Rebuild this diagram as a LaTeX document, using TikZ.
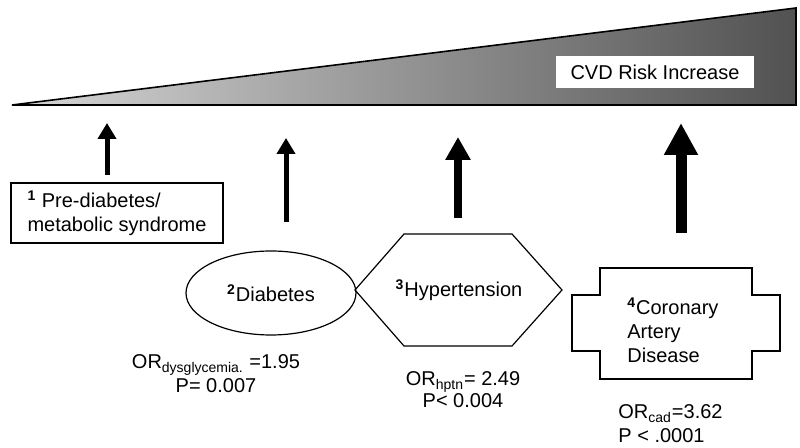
\documentclass[tikz,border=0pt]{standalone}
\usepackage{fontspec}
\setmainfont{Liberation Sans}
\usetikzlibrary{
    arrows.meta,
    shapes.geometric
}
\definecolor{wedgelight}{gray}{0.84}
\definecolor{wedgemid}{gray}{0.64}
\definecolor{wedgedark}{gray}{0.32}
\tikzset{
    txt/.style={font=\fontsize{10}{12}\selectfont, inner sep=0pt},
    outline/.style={draw, line width=0.6pt},
    riskarrow/.style n args={3}{line width=#1, -{Triangle[width=#2, length=#3]}}
}
\newcommand{\refnum}[1]{\textsuperscript{\bfseries #1}}

\begin{document}
\begin{tikzpicture}[x=0.5pt, y=-0.5pt]
        \useasboundingbox (0,0) rectangle (800,448);
        % risk wedge
        \shade[left color=wedgelight, middle color=wedgemid, right color=wedgedark]
            (12,105) -- (796,105) -- (796,8) -- cycle;
        \draw[line width=0.8pt] (12,105) -- (796,105) -- (796,8) -- cycle;
        \node[txt, fill=white, minimum width=99pt, minimum height=16pt] (risk) at (655,72) {CVD Risk Increase};
        % conditions
        \node[txt, outline, align=left, minimum width=106pt, minimum height=30pt] (prediab) at (117,213)
            {\refnum{1} Pre-diabetes/\\metabolic syndrome};
        \node[txt, outline, ellipse, minimum width=85pt, minimum height=42pt] (diab) at (271,293)
            {\refnum{2}Diabetes};
        \draw[outline] (355,290) -- (404,234) -- (512,234) -- (562,290) -- (512,346) -- (404,346) -- cycle;
        \node[txt] (hyper) at (459,290) {\refnum{3}Hypertension};
        \draw[outline] (600,268) -- (752,268) -- (752,295) -- (780,295) -- (780,351) -- (752,351)
            -- (752,379) -- (600,379) -- (600,351) -- (572,351) -- (572,295) -- (600,295) -- cycle;
        \node[txt, align=left, anchor=west] (cad) at (627,330) {\refnum{4}Coronary\\Artery\\Disease};
        % odds ratios
        \node[txt, align=center] (ordiab) at (216,374) {OR\textsubscript{dysglycemia.} =1.95\\P= 0.007};
        \node[txt, align=center, font=\fontsize{10}{11}\selectfont] (orhyper) at (463,390) {OR\textsubscript{hptn}= 2.49\\P< 0.004};
        \node[txt, align=left, anchor=west] (orcad) at (618,424) {OR\textsubscript{cad}=3.62\\P < .0001};
        % arrows towards the wedge
        \coordinate (a1s) at (107,175);
        \coordinate (a1e) at (107,123);
        \coordinate (a2s) at (286,222);
        \coordinate (a2e) at (286,138);
        \coordinate (a3s) at (458,218);
        \coordinate (a3e) at (458,137);
        \coordinate (a4s) at (681,233);
        \coordinate (a4e) at (681,123);
        \draw[riskarrow={2.5pt}{9pt}{8pt}] (a1s) -- (a1e);
        \draw[riskarrow={2.5pt}{9pt}{8pt}] (a2s) -- (a2e);
        \draw[riskarrow={4pt}{12pt}{11.5pt}] (a3s) -- (a3e);
        \draw[riskarrow={5.5pt}{16pt}{16pt}] (a4s) -- (a4e);
\end{tikzpicture}
\end{document}
